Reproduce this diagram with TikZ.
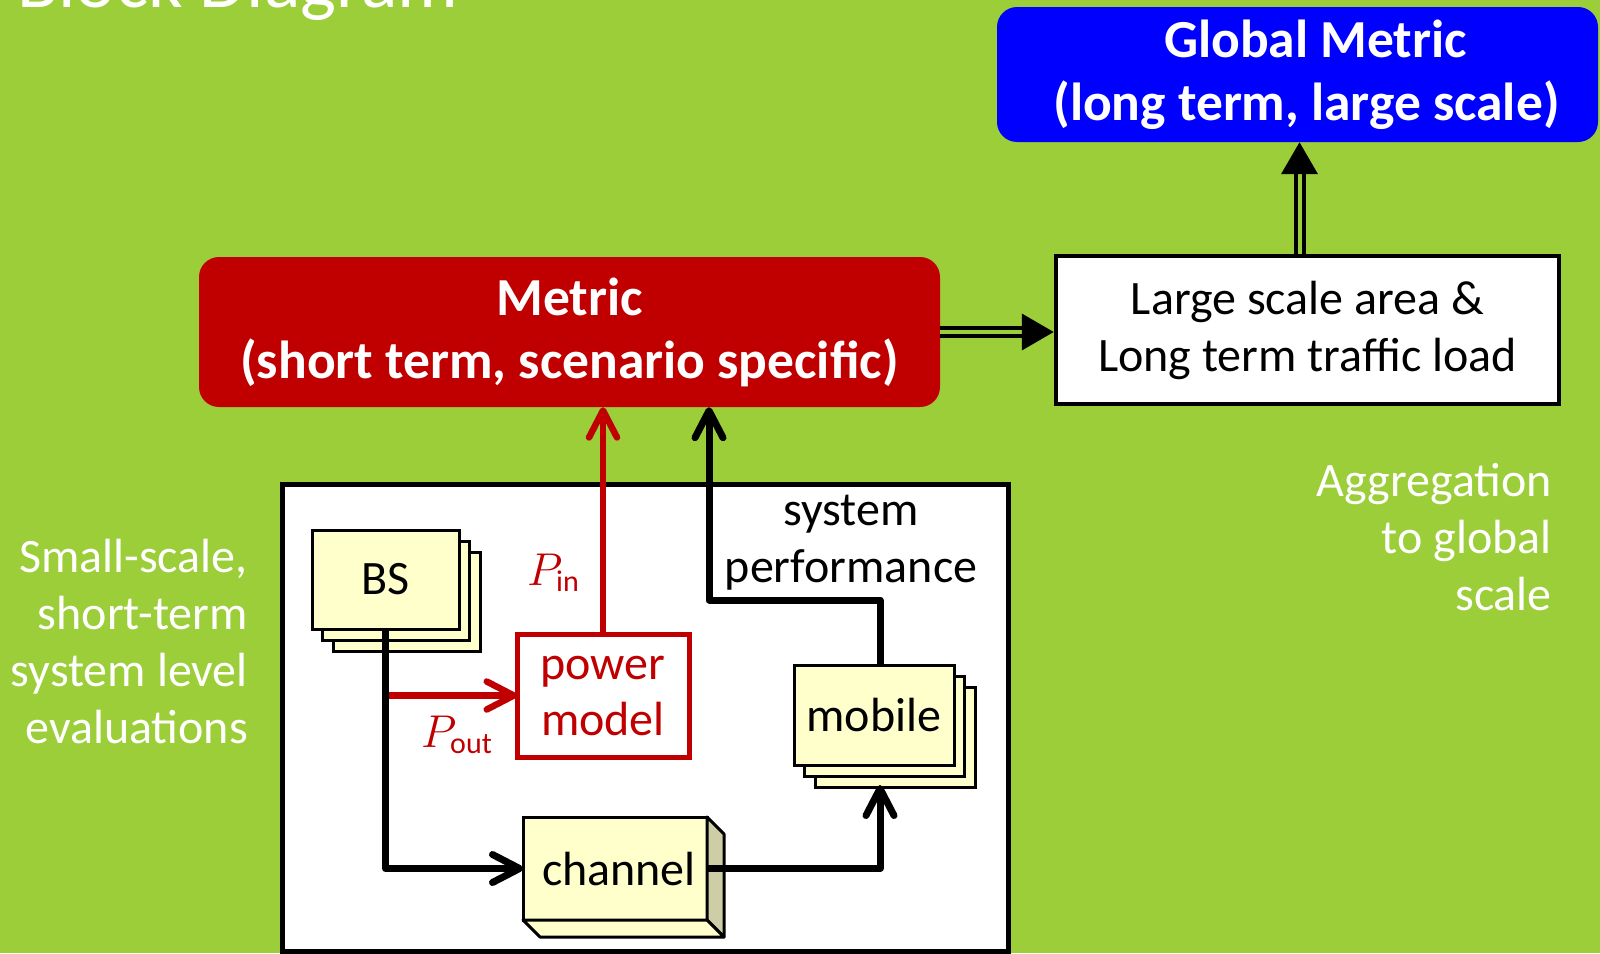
\documentclass[tikz,border=0pt]{standalone}
\usepackage{fix-cm}
\usepackage{fontspec}
\setmainfont{Carlito}
\usetikzlibrary{arrows.meta,shadows}

\definecolor{slidegreen}{RGB}{156,206,58}
\definecolor{darkred}{RGB}{192,0,0}
\definecolor{paleyellow}{RGB}{255,255,204}
\definecolor{sideface}{RGB}{206,206,166}

\tikzset{
  txt/.style={font=\fontsize{48}{57}\selectfont, inner sep=0pt},
  whitetxt/.style={txt, text=white, align=right, anchor=base east},
  headbox/.style={rounded corners=20pt, text=white, align=center, inner sep=0pt,
    font=\fontsize{53.5}{63}\selectfont\bfseries},
  plainbox/.style={draw=black, line width=4.5pt, fill=white, align=center, inner sep=0pt,
    font=\fontsize{48}{57}\selectfont},
  unitbox/.style={draw=black, line width=3pt, fill=paleyellow, inner sep=0pt, outer sep=0pt,
    font=\fontsize{48}{57}\selectfont},
  stackbox/.style={unitbox,
    general shadow={shadow xshift=21pt, shadow yshift=-22pt, fill=paleyellow, draw=black, line width=3pt},
    general shadow={shadow xshift=10.5pt, shadow yshift=-11pt, fill=paleyellow, draw=black, line width=3pt}},
  pmbox/.style={draw=darkred, line width=5pt, fill=white, text=darkred, align=center,
    inner sep=0pt, outer sep=0pt, font=\fontsize{48}{56}\selectfont},
  frame/.style={draw=black, line width=5pt, fill=white, inner sep=0pt},
  blkflow/.style={draw=black, line width=7pt, line join=round,
    -{Straight Barb[length=27pt, width=28pt, round]}},
  redflow/.style={draw=darkred, line width=6.5pt, line join=round,
    -{Straight Barb[length=27pt, width=28pt, round]}},
  dblflow/.style={draw=black, line width=4pt, double=slidegreen, double distance=4pt,
    -{Triangle[length=32pt, width=36pt]}},
  plabel/.style={text=darkred, inner sep=0pt, anchor=base west, font=\fontsize{46}{55}\selectfont},
}

\begin{document}
\begin{tikzpicture}[x=1pt,y=-1pt]
% slide background
\path[use as bounding box, fill=slidegreen] (0,0) rectangle (1600,953);

% slide title, running off the top edge
\node[anchor=base west, inner sep=0pt, text=white, font=\fontsize{76}{80}\selectfont] (title) at (17,7) {Block Diagram};

% upper level boxes
\node[headbox, fill=blue, minimum width=601pt, minimum height=135pt] (global) at (1297.5,74.5)
  {\hspace*{36pt}Global Metric\\\hspace*{18pt}(long term, large scale)};
\node[headbox, fill=darkred, minimum width=741pt, minimum height=150pt] (metric) at (569.5,332)
  {Metric\\(short term, scenario specific)};
\node[plainbox, minimum width=503pt, minimum height=148pt] (area) at (1307.5,330)
  {Large scale area \&\\Long term traffic load};

% system level simulation frame
\node[frame, minimum width=726pt, minimum height=467pt] (frame) at (645,717.5) {};

% base stations and mobiles (stacked)
\node[stackbox, minimum width=147pt, minimum height=99pt] (bs) at (385.5,579.5) {BS};
\node[stackbox, minimum width=160pt, minimum height=100pt] (mobile) at (874,715) {mobile};

% power model
\node[pmbox, minimum width=172pt, minimum height=123pt] (pm) at (603,695.5) {power\\model};

% channel block drawn as a box with depth
\node[unitbox, minimum width=184pt, minimum height=103pt] (channel) at (615,868.5) {\hspace*{8pt}channel};
\draw[line width=3pt, line join=round, fill=sideface]
  (channel.north east) -- ++(17,17) -- ([shift={(17,17)}]channel.south east) -- (channel.south east) -- cycle;
\draw[line width=3pt, line join=round, fill=paleyellow]
  (channel.south west) -- ++(17,17) -- ([shift={(17,17)}]channel.south east) -- (channel.south east) -- cycle;

% side notes (anchored at the baseline of their last line)
\node[whitetxt] (leftnote) at (248,743) {Small-scale,\\short-term\\system level\\evaluations};
\node[whitetxt] (rightnote) at (1552,610) {Aggregation\\to global\\scale};

% labels
\node[txt, align=center] (perf) at (851,543) {system\\performance};
\node[plabel] (pin) at (527,585) {$P_{\mbox{\fontsize{30}{32}\selectfont in}}$};
\node[plabel] (pout) at (421,747) {$P_{\mbox{\fontsize{30}{32}\selectfont out}}$};

% signal flow
\coordinate (spc) at (709,600);
\draw[redflow] (bs.south |- pm.west) -- (pm.west);
\draw[redflow] (pm.north) -- (pm.north |- metric.south);
\draw[blkflow] (bs.south) |- (channel.west);
\draw[blkflow] (channel.east) -| ([xshift=6pt,yshift=-20pt]mobile.south);
\draw[blkflow] ([xshift=6pt]mobile.north) |- (spc) -- (spc |- metric.south);

% aggregation
\draw[dblflow] (metric.east) -- (metric.east -| area.west);
\draw[dblflow] ([xshift=-8pt]area.north) -- ([xshift=-8pt]area.north |- global.south);
\end{tikzpicture}
\end{document}
